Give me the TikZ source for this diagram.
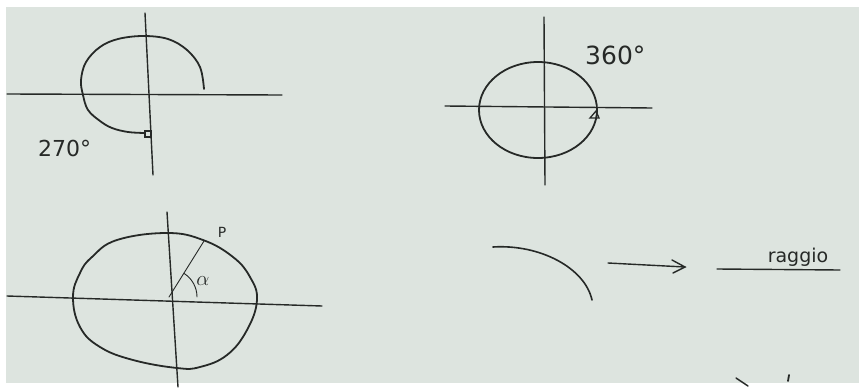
\documentclass[tikz,border=0pt]{standalone}
\usepackage{fontspec}
\setmainfont{DejaVu Sans}
\begin{document}
\begin{tikzpicture}[x=1pt,y=-1pt,
  pen/.style={draw=ink,line width=1.8pt,line cap=round,line join=round},
  axis/.style={draw=ink,line width=1.4pt,line cap=round},
  thin/.style={draw=ink,line width=0.9pt,line cap=round},
  hand/.style={text=ink,inner sep=0pt}]
\definecolor{ink}{HTML}{262927}
\definecolor{board}{HTML}{DDE4DF}
\useasboundingbox (0,0) rectangle (859,388);
\fill[white] (0,0) rectangle (859,388);
\fill[board] (6,7) rectangle (859,383);
% ---------- top-left: 270 ----------
\draw[axis] (7,94) -- (282,95);
\draw[axis] (145,13) -- (153,175);
\draw[pen] plot[smooth,tension=0.6] coordinates {(204,89) (200,67) (187,50) (168,39) (143,36) (118,39) (100,47) (86,62) (81,80) (83,95) (88,110) (100,121) (112,128) (128,132) (145,133)};
\draw[draw=ink,line width=1.3pt] (145,131) rectangle (151,137);
\node[hand,font=\fontsize{22}{22}\selectfont,anchor=west] (t270) at (38,148) {270°};
% ---------- top-right: 360 ----------
\draw[axis] (445,106) -- (652,108);
\draw[axis] (544,17) -- (545,185);
\draw[pen] (538,110) ellipse [x radius=59, y radius=48];
\draw[draw=ink,line width=1.3pt] (590,118) -- (596,111) -- (599,118) -- cycle;
\node[hand,font=\fontsize{25}{25}\selectfont,anchor=west] (t360) at (585,55) {360°};
% ---------- bottom-left: alpha ----------
\draw[axis] (7,296) -- (322,306);
\draw[axis] (167,212) -- (178,387);
\draw[pen] plot[smooth cycle,tension=0.7] coordinates {(167,233) (203,240) (233,257) (250,277) (257,300) (247,330) (227,355) (200,367) (177,368) (133,360) (100,347) (80,327) (73,297) (80,273) (92,257) (117,240)};
\coordinate (O) at (169,297);
\coordinate (P) at (204,241);
\draw[thin] (O) -- (P);
\draw[thin] (197,297) arc[start angle=0,end angle=-57,radius=28];
\node[hand,font=\fontsize{22}{22}\selectfont] (alpha) at (203,281) {$\alpha$};
\node[hand,font=\fontsize{14}{14}\selectfont] (p) at (222,232) {P};
% ---------- bottom-right: raggio ----------
\draw[pen,line width=1.6pt] (493,247) .. controls (540,244) and (585,268) .. (592,300);
\coordinate (a1) at (608,263);
\coordinate (a2) at (685,267);
\draw[thin,line width=1.4pt] (a1) -- (a2);
\draw[thin,line width=1.4pt] (672,260) -- (685,267) -- (673,273);
\coordinate (l1) at (717,269);
\coordinate (l2) at (840,270);
\draw[axis] (l1) -- (l2);
\node[hand,font=\fontsize{19}{19}\selectfont,anchor=south] (raggio) at (798,267) {raggio};
% partial strokes at the bottom
\draw[thin,line width=1.4pt] (736,378) -- (748,386);
\draw[thin,line width=1.8pt] (789,375) -- (788,381);
\end{tikzpicture}
\end{document}
